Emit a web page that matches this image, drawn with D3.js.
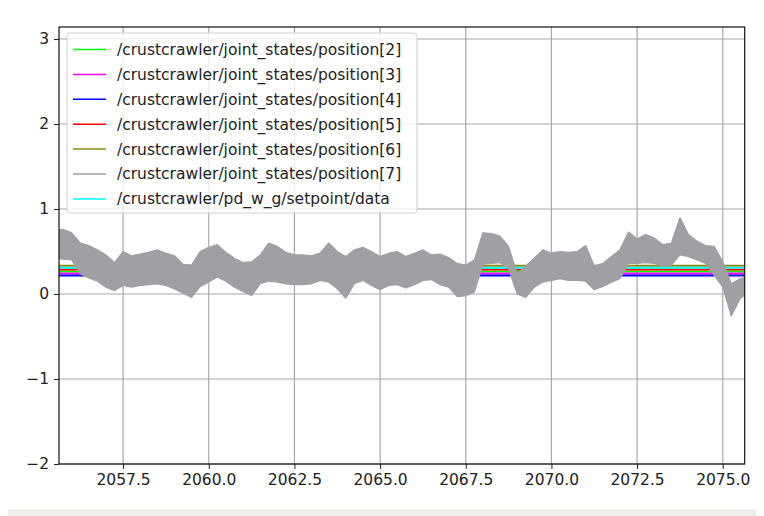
<!DOCTYPE html>
<html>
<head>
<meta charset="utf-8">
<script src="https://cdn.jsdelivr.net/npm/d3@7"></script>
<style>
  html, body { margin: 0; padding: 0; background: #fff; }
  svg { display: block; font-family: "DejaVu Sans", sans-serif; }
</style>
</head>
<body>
<svg id="chart" width="764" height="516"></svg>
<script>
// series names (legend order) and colours
const seriesNames = [
  '/crustcrawler/joint_states/position[2]',
  '/crustcrawler/joint_states/position[3]',
  '/crustcrawler/joint_states/position[4]',
  '/crustcrawler/joint_states/position[5]',
  '/crustcrawler/joint_states/position[6]',
  '/crustcrawler/joint_states/position[7]',
  '/crustcrawler/pd_w_g/setpoint/data'
];
const seriesColors = ['#00ff00', '#ff00ff', '#0000ff', '#ff0000', '#8c8c14', '#a0a0a4', '#00ffff'];

// nearly flat joint positions, sampled at start / middle / end
const flatTimes = [2055.5, 2065.5, 2075.75];
const pos2 = [0.265, 0.265, 0.265];
const pos3 = [0.240, 0.240, 0.240];
const pos4 = [0.217, 0.217, 0.217];
const pos5 = [0.289, 0.289, 0.289];
const pos6 = [0.333, 0.333, 0.333];
const setpoint = [0.310, 0.310, 0.310];

// position[7] is a dense noisy signal: upper / lower envelope every 0.25 s
const noisyTimes = d3.range(2055.5, 2075.76, 0.25);
const pos7High = [
  0.75, 0.76, 0.72, 0.60, 0.57, 0.52, 0.46, 0.37, 0.50, 0.45,
  0.47, 0.49, 0.52, 0.48, 0.45, 0.35, 0.34, 0.50, 0.55, 0.58,
  0.49, 0.42, 0.37, 0.38, 0.46, 0.60, 0.56, 0.49, 0.46, 0.46,
  0.45, 0.48, 0.60, 0.50, 0.44, 0.52, 0.55, 0.50, 0.44, 0.48,
  0.50, 0.44, 0.48, 0.52, 0.46, 0.47, 0.43, 0.36, 0.34, 0.40,
  0.72, 0.71, 0.68, 0.56, 0.24, 0.33, 0.42, 0.52, 0.48, 0.50,
  0.49, 0.50, 0.57, 0.33, 0.36, 0.44, 0.52, 0.73, 0.65, 0.70,
  0.66, 0.58, 0.60, 0.90, 0.70, 0.62, 0.57, 0.56, 0.38, 0.12,
  0.18, 0.20
];
const pos7Low = [
  0.42, 0.41, 0.40, 0.24, 0.19, 0.15, 0.08, 0.04, 0.10, 0.08,
  0.10, 0.11, 0.12, 0.10, 0.06, 0.01, -0.04, 0.09, 0.14, 0.20,
  0.15, 0.08, 0.03, -0.02, 0.12, 0.15, 0.14, 0.12, 0.11, 0.11,
  0.12, 0.16, 0.14, 0.06, -0.05, 0.12, 0.16, 0.10, 0.05, 0.10,
  0.11, 0.07, 0.11, 0.16, 0.17, 0.11, 0.08, -0.03, -0.02, 0.02,
  0.35, 0.36, 0.37, 0.30, 0.00, -0.04, 0.08, 0.14, 0.16, 0.18,
  0.16, 0.16, 0.15, 0.05, 0.09, 0.14, 0.18, 0.36, 0.36, 0.37,
  0.36, 0.33, 0.34, 0.46, 0.44, 0.40, 0.36, 0.22, 0.08, -0.26,
  -0.06, 0.02
];

const xTicks = [2057.5, 2060.0, 2062.5, 2065.0, 2067.5, 2070.0, 2072.5, 2075.0];
const yTicks = [-2, -1, 0, 1, 2, 3];

const svg = d3.select('#chart');
const plot = { left: 59, right: 744.7, top: 27, bottom: 464 };

const x = d3.scaleLinear().domain([2055.63, 2075.64]).range([plot.left, plot.right]);
const y = d3.scaleLinear().domain([-2, 3.141]).range([plot.bottom, plot.top]);

// light strip at the bottom of the window
svg.append('rect')
  .attr('x', 8).attr('y', 509).attr('width', 748).attr('height', 7)
  .attr('fill', '#f0eeeb');

svg.append('clipPath').attr('id', 'clip')
  .append('rect')
  .attr('x', plot.left).attr('y', plot.top)
  .attr('width', plot.right - plot.left).attr('height', plot.bottom - plot.top);

// grid
const grid = svg.append('g').attr('class', 'grid');
grid.selectAll('.gx').data(xTicks).enter().append('line')
  .attr('x1', d => x(d)).attr('x2', d => x(d))
  .attr('y1', plot.top).attr('y2', plot.bottom)
  .attr('stroke', '#a8a8a8').attr('stroke-width', 1.2);
grid.selectAll('.gy').data(yTicks).enter().append('line')
  .attr('x1', plot.left).attr('x2', plot.right)
  .attr('y1', d => y(d)).attr('y2', d => y(d))
  .attr('stroke', '#a8a8a8').attr('stroke-width', 1.2);

// data
const dataG = svg.append('g').attr('clip-path', 'url(#clip)');
const flatLine = d3.line().x((d, i) => x(flatTimes[i])).y(d => y(d));

const flatSeries = [
  { values: pos2, color: seriesColors[0] },
  { values: pos3, color: seriesColors[1] },
  { values: pos4, color: seriesColors[2] },
  { values: pos5, color: seriesColors[3] },
  { values: pos6, color: seriesColors[4] },
  { values: setpoint, color: seriesColors[6] }
];
dataG.selectAll('.flat').data(flatSeries).enter().append('path')
  .attr('class', 'flat')
  .attr('d', d => flatLine(d.values))
  .attr('fill', 'none')
  .attr('stroke', d => d.color)
  .attr('stroke-width', 2);

// noisy signal shown as its envelope band
const band = d3.area()
  .x((d, i) => x(noisyTimes[i]))
  .y0((d, i) => y(pos7Low[i]))
  .y1(d => y(d));
dataG.append('path')
  .attr('d', band(pos7High))
  .attr('fill', seriesColors[5])
  .attr('stroke', seriesColors[5])
  .attr('stroke-width', 1.2)
  .attr('stroke-linejoin', 'bevel');

// axes
const xAxis = svg.append('g')
  .attr('transform', `translate(0,${plot.bottom})`)
  .call(d3.axisBottom(x).tickValues(xTicks).tickFormat(d3.format('.1f')).tickSize(5).tickSizeOuter(0).tickPadding(5));
const yAxis = svg.append('g')
  .attr('transform', `translate(${plot.left},0)`)
  .call(d3.axisLeft(y).tickValues(yTicks).tickFormat(d => d < 0 ? '\u2212' + Math.abs(d) : d).tickSize(5).tickSizeOuter(0).tickPadding(5));

[xAxis, yAxis].forEach(g => {
  g.select('.domain').remove();
  g.selectAll('.tick line').attr('stroke', '#222').attr('stroke-width', 1);
  g.selectAll('.tick text')
    .attr('fill', '#222')
    .style('font-family', '"DejaVu Sans", sans-serif')
    .style('font-size', '15.5px');
});

// frame
svg.append('rect')
  .attr('x', plot.left).attr('y', plot.top)
  .attr('width', plot.right - plot.left).attr('height', plot.bottom - plot.top)
  .attr('fill', 'none').attr('stroke', '#111').attr('stroke-width', 1.2);

// legend
const legend = svg.append('g').attr('transform', 'translate(67,33)');
legend.append('rect')
  .attr('width', 350).attr('height', 180)
  .attr('rx', 3)
  .attr('fill', '#fff').attr('fill-opacity', 0.8)
  .attr('stroke', '#d0d0d0');

const rows = legend.selectAll('.row').data(seriesNames).enter().append('g')
  .attr('transform', (d, i) => `translate(0,${16.5 + i * 24.9})`);
rows.append('line')
  .attr('x1', 6).attr('x2', 39)
  .attr('stroke', (d, i) => seriesColors[i])
  .attr('stroke-width', 1.5);
rows.append('text')
  .attr('x', 50).attr('dy', '0.35em')
  .attr('fill', '#222')
  .style('font-size', '15.5px')
  .text(d => d);
</script>
</body>
</html>
